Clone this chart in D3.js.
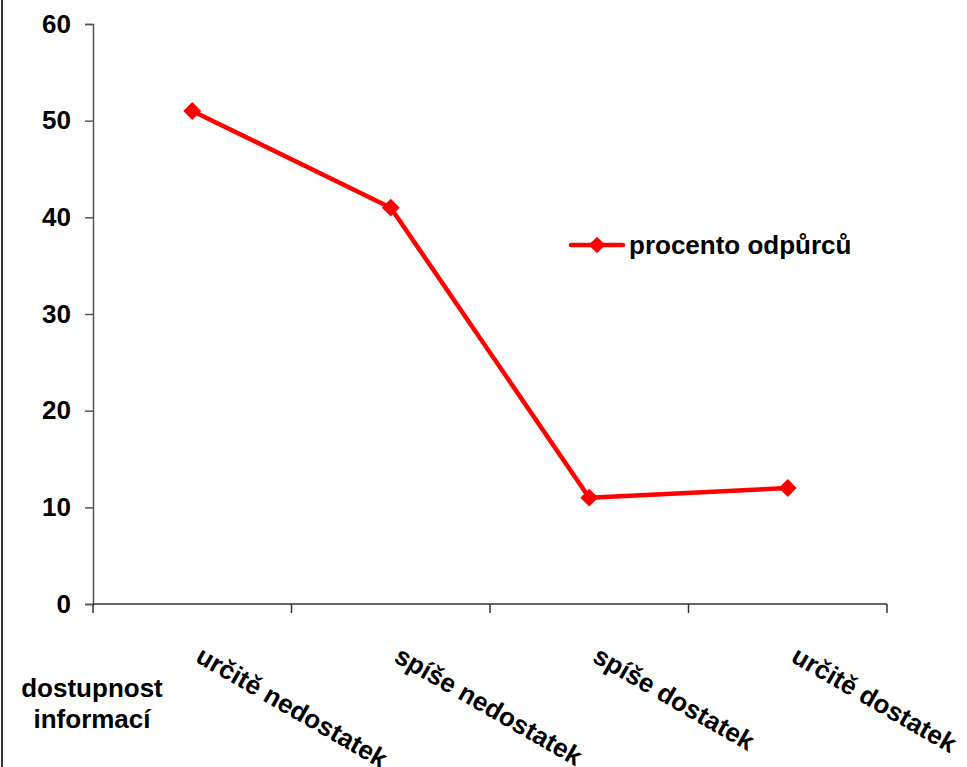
<!DOCTYPE html>
<html>
<head>
<meta charset="utf-8">
<script src="https://cdn.jsdelivr.net/npm/d3@7"></script>
<style>
  body { margin: 0; background: #fff; }
  svg { display: block; font-family: "Liberation Sans", Arial, sans-serif; font-weight: bold; }
</style>
</head>
<body>
<svg id="chart" width="967" height="767"></svg>
<script>
// data
const categories = ["určitě nedostatek", "spíše nedostatek", "spíše dostatek", "určitě dostatek"];
const values = [51, 41, 11, 12];
const seriesName = "procento odpůrců";
const yTicks = [0, 10, 20, 30, 40, 50, 60];

const svg = d3.select("#chart");
const margin = { left: 93, right: 80, top: 24, bottom: 163 };
const width = 967, height = 767;
const fontSize = "26px";

const x = d3.scaleBand().domain(categories).range([margin.left, width - margin.right]);
const y = d3.scaleLinear().domain([0, 60]).range([height - margin.bottom, margin.top]);
const cx = c => x(c) + x.bandwidth() / 2;

// slide border on the left
svg.append("line")
  .attr("x1", 2).attr("x2", 2).attr("y1", 0).attr("y2", height)
  .attr("stroke", "#333").attr("stroke-width", 2);

// y axis
const yAxis = svg.append("g")
  .attr("transform", `translate(${margin.left},0)`)
  .call(d3.axisLeft(y).tickValues(yTicks).tickSize(8).tickPadding(14));
yAxis.select(".domain").attr("stroke", "#555").attr("stroke-width", 1.5);
yAxis.selectAll(".tick line").attr("stroke", "#555").attr("stroke-width", 1.5);
yAxis.selectAll(".tick text")
  .attr("fill", "#000")
  .style("font-size", fontSize)
  .style("font-weight", "bold")
  .style("font-family", "Liberation Sans, Arial, sans-serif");

// x axis: ticks at category boundaries
const xAxisY = y(0);
svg.append("line")
  .attr("x1", margin.left).attr("x2", width - margin.right)
  .attr("y1", xAxisY).attr("y2", xAxisY)
  .attr("stroke", "#333").attr("stroke-width", 1.5);
const bounds = categories.map(c => x(c)).concat([x(categories[categories.length - 1]) + x.bandwidth()]);
svg.append("g").selectAll("line")
  .data(bounds)
  .join("line")
  .attr("x1", d => d).attr("x2", d => d)
  .attr("y1", xAxisY).attr("y2", xAxisY + 9)
  .attr("stroke", "#333").attr("stroke-width", 1.5);

// rotated category labels
svg.append("g").selectAll("text")
  .data(categories)
  .join("text")
  .attr("transform", d => `translate(${cx(d) + 2},${xAxisY + 57}) rotate(30)`)
  .attr("text-anchor", "start")
  .style("font-size", fontSize)
  .attr("fill", "#000")
  .text(d => d);

// axis title
const title = svg.append("text")
  .attr("x", 92).attr("y", 697)
  .attr("text-anchor", "middle")
  .style("font-size", fontSize)
  .attr("fill", "#000");
title.append("tspan").attr("x", 92).attr("dy", 0).text("dostupnost");
title.append("tspan").attr("x", 92).attr("dy", 31).text("informací");

// line
const line = d3.line()
  .x((d, i) => cx(categories[i]))
  .y(d => y(d));
svg.append("path")
  .datum(values)
  .attr("d", line)
  .attr("fill", "none")
  .attr("stroke", "#ff0000")
  .attr("stroke-width", 4.5)
  .attr("stroke-linejoin", "round");

// diamond markers
svg.append("g").selectAll("path")
  .data(values)
  .join("path")
  .attr("transform", (d, i) => `translate(${cx(categories[i])},${y(d)}) rotate(45)`)
  .attr("d", d3.symbol().type(d3.symbolSquare).size(160))
  .attr("fill", "#ff0000");

// legend
const lg = svg.append("g").attr("transform", "translate(571,245)");
lg.append("line").attr("x1", 0).attr("x2", 52).attr("y1", 0).attr("y2", 0)
  .attr("stroke", "#ff0000").attr("stroke-width", 4.5).attr("stroke-linecap", "round");
lg.append("path").attr("transform", "translate(26,0) rotate(45)")
  .attr("d", d3.symbol().type(d3.symbolSquare).size(140)).attr("fill", "#ff0000");
lg.append("text").attr("x", 58).attr("y", 9)
  .style("font-size", fontSize).attr("fill", "#000").text(seriesName);
</script>
</body>
</html>
